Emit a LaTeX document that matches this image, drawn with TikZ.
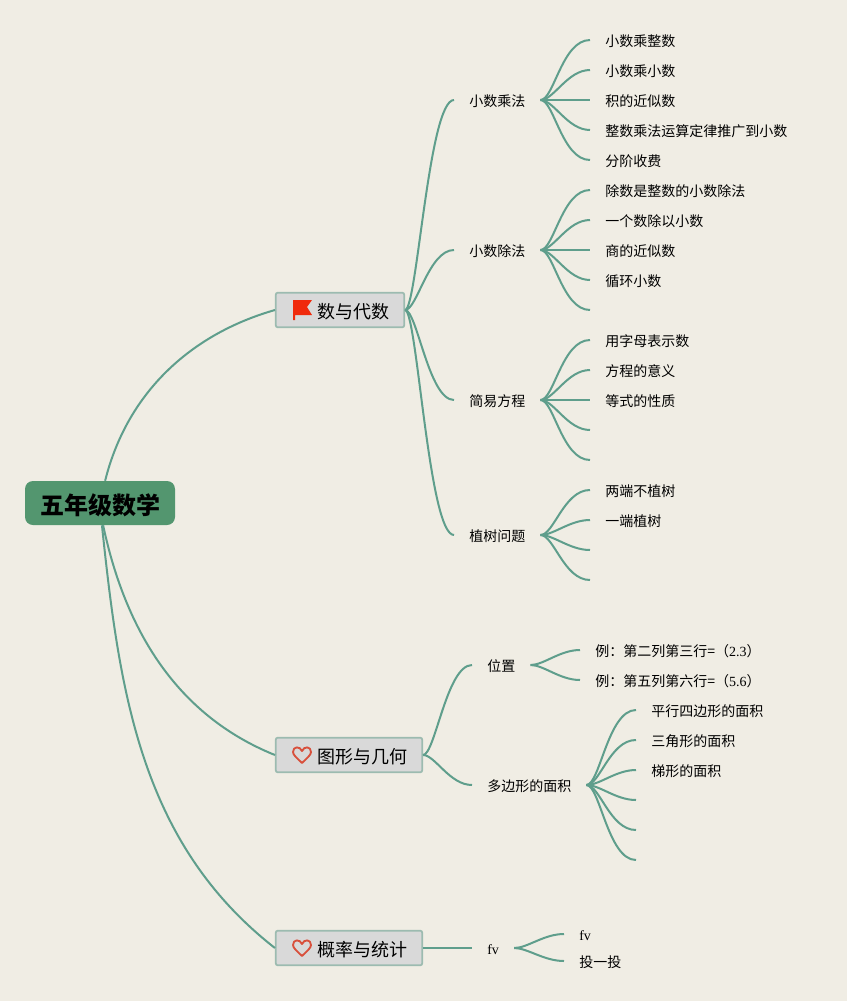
\documentclass[tikz,border=0pt]{standalone}
\usepackage{fontspec}
\setmainfont{Liberation Serif}
\newfontfamily\cjk{Noto Sans CJK SC}
\definecolor{paper}{HTML}{F0EDE4}
\definecolor{branchline}{HTML}{5F9E8C}
\definecolor{rootfill}{HTML}{53966F}
\definecolor{topicfill}{HTML}{D9D9D9}
\definecolor{topicline}{HTML}{9CBBB0}
\definecolor{iconred}{HTML}{F02A0C}
\definecolor{heartred}{HTML}{D8503C}
\tikzset{
    rootbox/.style={fill=rootfill, rounded corners=6pt, minimum width=112.5pt, minimum height=33pt, inner sep=0pt, text height=17.5pt, text depth=0pt, font=\cjk\fontsize{18pt}{20pt}\selectfont\bfseries},
    topicbox/.style={draw=topicline, line width=1.3pt, fill=topicfill, rounded corners=1.5pt, minimum height=26pt, inner xsep=11.4pt, inner ysep=0pt, text height=12pt, text depth=0pt, font=\cjk\fontsize{13.5pt}{16pt}\selectfont},
    branchnode/.style={anchor=west, inner xsep=11.25pt, inner ysep=0pt, text height=9.4pt, text depth=0pt, font=\cjk\fontsize{10.5pt}{12pt}\selectfont},
    leafnode/.style={branchnode},
    link/.style={draw=branchline, line width=1.5pt},
    toplink/.style={out=0, in=180, out max distance=9pt, in max distance=19pt},
    leaflink/.style={out=0, in=180, out max distance=10pt, in max distance=21pt},
    heartmark/.style={draw=heartred, line width=1.4pt, line join=round}
}
\newcommand{\heartat}[2]{
    \draw[heartmark, shift={(#1,#2)}] (0,8) .. controls (-5,3) and (-9,0) .. (-9,-3) .. controls (-9,-9) and (-2,-9) .. (0,-4) .. controls (2,-9) and (9,-9) .. (9,-3) .. controls (9,0) and (5,3) .. (0,8) -- cycle;
}
\newcommand{\latin}[1]{{\rmfamily #1}}
\begin{document}
\begin{tikzpicture}[x=0.75pt, y=-0.75pt]
    \useasboundingbox[fill=paper] (0,0) rectangle (847,1001);

    % Root and topics
    \node[rootbox] (root) at (100,503) {\hspace*{1pt}五年级数学};
    \node[topicbox] (algebra) at (340,310) {\hspace*{19.5pt}数与代数};
    \node[topicbox] (geometry) at (349,755) {\hspace*{19.5pt}图形与几何};
    \node[topicbox] (stats) at (349,948) {\hspace*{19.5pt}概率与统计};

    % Icons
    \fill[iconred] (293,300) -- (312,300) -- (307,307) -- (312,315) -- (295,315) -- (295,320) -- (293,320) -- cycle;
    \heartat{302}{755}
    \heartat{302}{948}

    % Branches
    \foreach \name/\x/\y/\txt in {mul/454/100/小数乘法, dvd/454/250/小数除法, eqn/454/400/简易方程, tree/454/535/植树问题, place/472/665/位置, poly/472/785/多边形的面积} {
        \node[branchnode] (\name) at (\x,\y) {\txt};
    }
    \node[branchnode] (fv) at (472,948) {\latin{fv}};

    % Leaves with text
    \foreach \name/\x/\y/\txt in {
        mula/590/40/小数乘整数, mulb/590/70/小数乘小数, mulc/590/100/积的近似数, muld/590/130/整数乘法运算定律推广到小数, mule/590/160/分阶收费,
        dvda/590/190/除数是整数的小数除法, dvdb/590/220/一个数除以小数, dvdc/590/250/商的近似数, dvdd/590/280/循环小数,
        eqna/590/340/用字母表示数, eqnb/590/370/方程的意义, eqnc/590/400/等式的性质,
        treea/590/490/两端不植树, treeb/590/520/一端植树,
        polya/636/710/平行四边形的面积, polyb/636/740/三角形的面积, polyc/636/770/梯形的面积
    } {
        \node[leafnode] (\name) at (\x,\y) {\txt};
    }
    \node[leafnode] (placea) at (580,650) {例：第二列第三行=（\latin{2.3}）};
    \node[leafnode] (placeb) at (580,680) {例：第五列第六行=（\latin{5.6}）};
    \node[leafnode] (fva) at (564,934) {\latin{fv}};
    \node[leafnode] (fvb) at (564,961) {投一投};

    % Empty leaves
    \foreach \name/\x/\y in {dvde/590/310, eqnd/590/430, eqne/590/460, treec/590/550, treed/590/580, polyd/636/800, polye/636/830, polyf/636/860} {
        \coordinate (\name) at (\x,\y);
    }

    % Root to topics
    \draw[link] (root.77) to[out=76, in=196, looseness=0.95] (algebra.west);
    \draw[link] (root.-82) to[out=-78, in=158, looseness=0.95] (geometry.west);
    \draw[link] (root.-85) to[out=-84, in=142, looseness=0.95] (stats.west);

    % Topics to branches
    \foreach \a/\b in {algebra/mul, algebra/dvd, algebra/eqn, algebra/tree, geometry/place, geometry/poly, stats/fv} {
        \draw[link] (\a.east) to[toplink] (\b.west);
    }

    % Branches to leaves
    \foreach \a/\b in {mul/mula, mul/mulb, mul/mulc, mul/muld, mul/mule, dvd/dvda, dvd/dvdb, dvd/dvdc, dvd/dvdd, eqn/eqna, eqn/eqnb, eqn/eqnc, tree/treea, tree/treeb, place/placea, place/placeb, poly/polya, poly/polyb, poly/polyc, fv/fva, fv/fvb} {
        \draw[link] (\a.east) to[leaflink] (\b.west);
    }
    \foreach \a/\b in {dvd/dvde, eqn/eqnd, eqn/eqne, tree/treec, tree/treed, poly/polyd, poly/polye, poly/polyf} {
        \draw[link] (\a.east) to[leaflink] (\b);
    }
\end{tikzpicture}
\end{document}
